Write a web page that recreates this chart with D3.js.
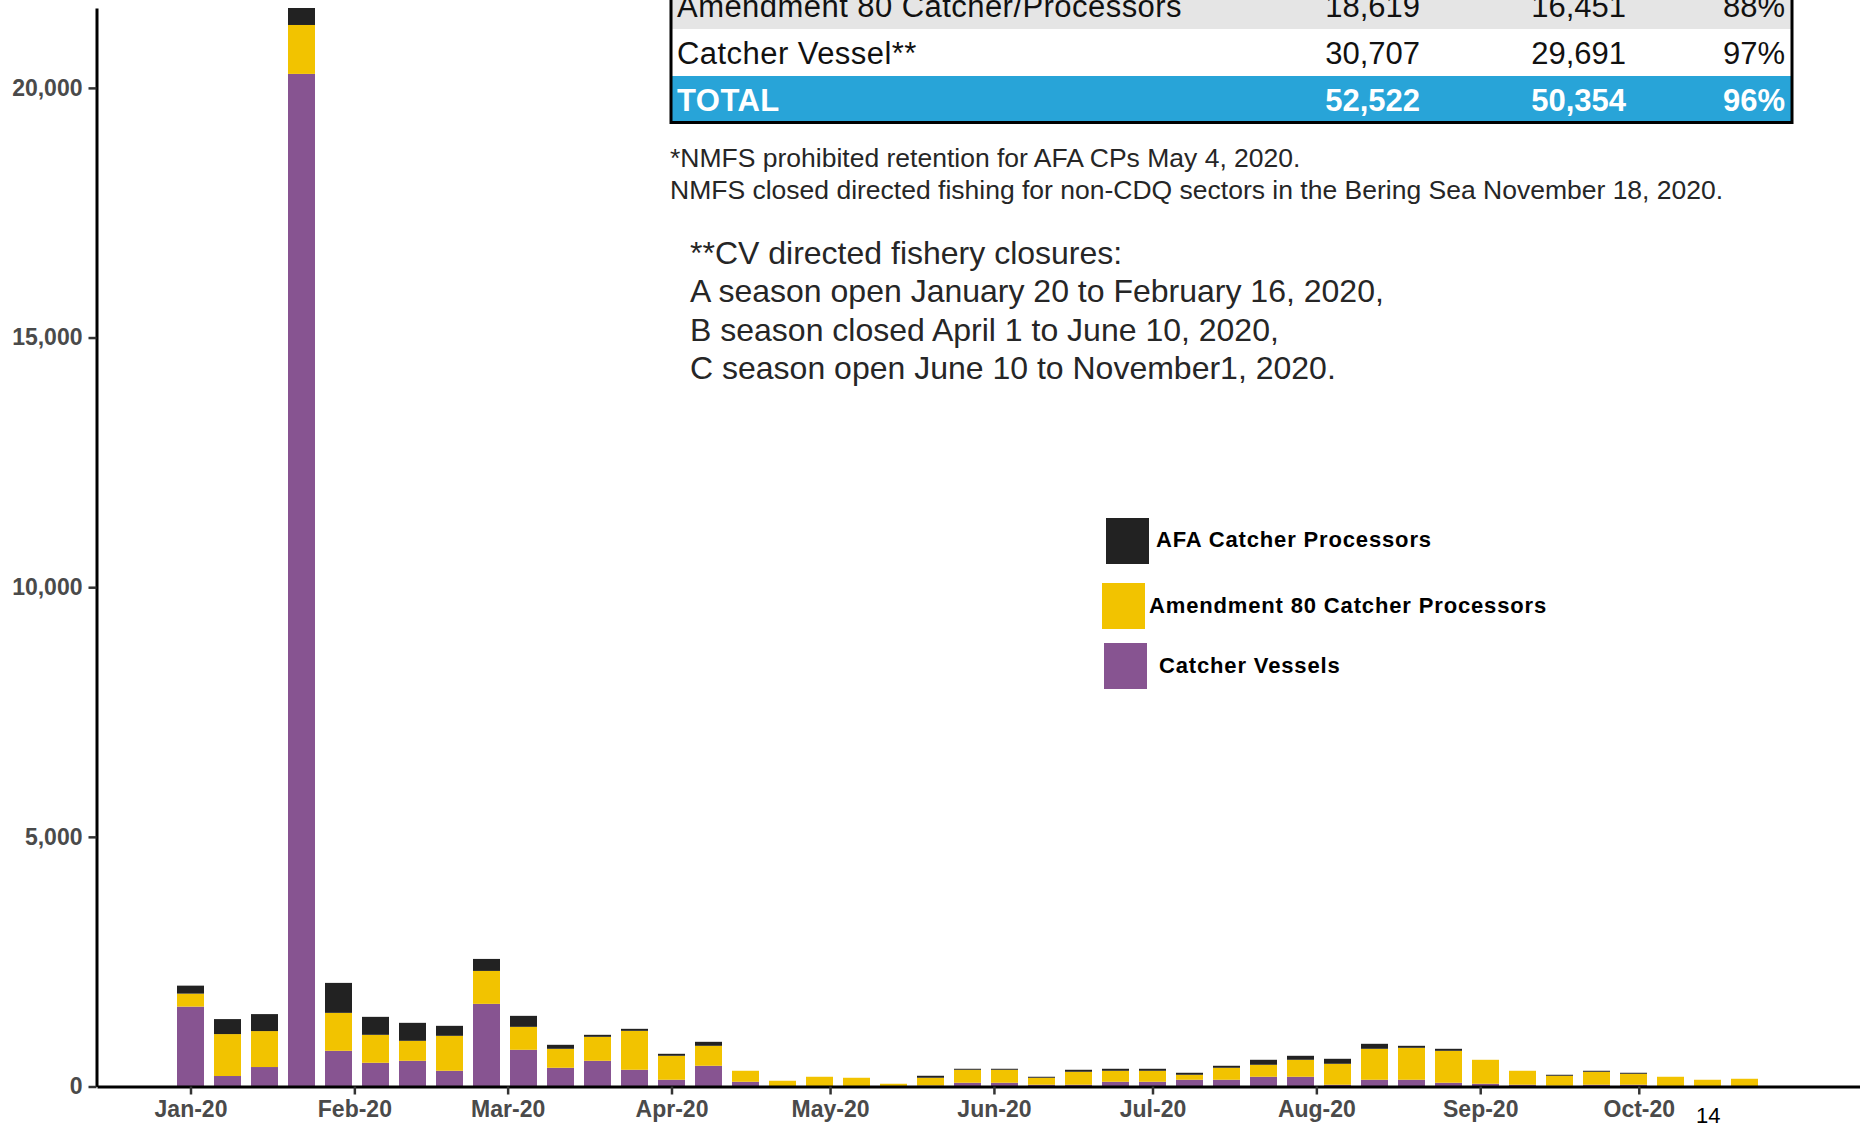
<!DOCTYPE html>
<html>
<head>
<meta charset="utf-8">
<script src="https://cdn.jsdelivr.net/npm/d3@7"></script>
<style>
  body { margin: 0; background: #fff; }
  svg { display: block; font-family: "Liberation Sans", Arial, sans-serif; }
</style>
</head>
<body>
<svg id="chart"></svg>
<script>
// weekly catch, Bering Sea 2020 (tons)
const weeks = [
  "2020-01-01", "2020-01-08", "2020-01-15", "2020-01-22", "2020-01-29",
  "2020-02-05", "2020-02-12", "2020-02-19", "2020-02-26",
  "2020-03-04", "2020-03-11", "2020-03-18", "2020-03-25",
  "2020-04-01", "2020-04-08", "2020-04-15", "2020-04-22", "2020-04-29",
  "2020-05-06", "2020-05-13", "2020-05-20", "2020-05-27",
  "2020-06-03", "2020-06-10", "2020-06-17", "2020-06-24",
  "2020-07-01", "2020-07-08", "2020-07-15", "2020-07-22", "2020-07-29",
  "2020-08-05", "2020-08-12", "2020-08-19", "2020-08-26",
  "2020-09-02", "2020-09-09", "2020-09-16", "2020-09-23", "2020-09-30",
  "2020-10-07", "2020-10-14", "2020-10-21"
];
const catcherVessels = [
  1600, 210, 390, 20280, 715, 475, 515, 315, 1655, 735, 375, 515, 335,
  135, 415, 95, 10, 10, 10, 5, 20, 75, 75, 35, 35, 95, 95, 135, 135, 195, 195,
  35, 135, 135, 75, 55, 35, 15, 35, 35, 5, 5, 5
];
const amendment80 = [
  260, 840, 720, 980, 760, 560, 400, 700, 660, 460, 380, 480, 780,
  480, 400, 220, 105, 185, 165, 50, 155, 260, 260, 140, 260, 220, 220, 100, 240, 240, 340,
  420, 620, 640, 640, 480, 280, 200, 260, 220, 190, 130, 150
];
const afaCatcherProcessors = [
  160, 300, 340, 340, 600, 360, 360, 200, 240, 220, 80, 40, 40,
  40, 80, 0, 0, 0, 0, 0, 40, 20, 20, 20, 40, 40, 40, 40, 40, 100, 80,
  100, 100, 40, 40, 0, 0, 20, 20, 20, 0, 0, 0
];

const seriesKeys = ["cv", "a80", "afa"];
const seriesColors = { cv: "#875491", a80: "#f2c300", afa: "#222222" };
const legendLabels = ["AFA Catcher Processors", "Amendment 80 Catcher Processors", "Catcher Vessels"];
const legendKeys = ["afa", "a80", "cv"];

const yTicks = [0, 5000, 10000, 15000, 20000];
const monthTicks = ["2020-01-01", "2020-02-01", "2020-03-01", "2020-04-01", "2020-05-01",
  "2020-06-01", "2020-07-01", "2020-08-01", "2020-09-01", "2020-10-01"];

// allocation table (top rows cut off in the slide)
const tableSectors = ["Amendment 80 Catcher/Processors", "Catcher Vessel**", "TOTAL"];
const tableAllocation = ["18,619", "30,707", "52,522"];
const tableCatch = ["16,451", "29,691", "50,354"];
const tablePct = ["88%", "97%", "96%"];

const notes = [
  "*NMFS prohibited retention for AFA CPs May 4, 2020.",
  "NMFS closed directed fishing for non-CDQ sectors in the Bering Sea November 18, 2020."
];
const closures = [
  "**CV directed fishery closures:",
  "A season open January 20 to February 16, 2020,",
  "B season closed April 1 to June 10, 2020,",
  "C season open June 10 to November1, 2020."
];

const width = 1860, height = 1125;
const svg = d3.select("#chart").attr("width", width).attr("height", height);
svg.append("rect").attr("width", width).attr("height", height).attr("fill", "#fff");

const parse = d3.utcParse("%Y-%m-%d");
const rows = weeks.map((w, i) => ({
  date: parse(w), cv: catcherVessels[i], a80: amendment80[i], afa: afaCatcherProcessors[i]
}));

// first week sits on the Jan tick, last on Oct 21; stretch to the axis ends
const x = d3.scaleUtc()
  .domain([parse(weeks[0]), parse(weeks[weeks.length - 1])])
  .range([190.5, 1744.5]);
x.domain([x.invert(97), x.invert(1860)]).range([97, 1860]);

const y = d3.scaleLinear().domain([0, 21600]).range([1086.5, 8]);
const barW = 27;

const stacked = d3.stack().keys(seriesKeys)(rows);

svg.append("g")
  .selectAll("g")
  .data(stacked)
  .join("g")
    .attr("fill", d => seriesColors[d.key])
  .selectAll("rect")
  .data(d => d)
  .join("rect")
    .attr("x", d => x(d.data.date) - barW / 2)
    .attr("y", d => y(d[1]))
    .attr("width", barW)
    .attr("height", d => y(d[0]) - y(d[1]));

// y axis
const yAxis = svg.append("g")
  .attr("transform", "translate(96.5,0)")
  .call(d3.axisLeft(y).tickValues(yTicks).tickFormat(d3.format(",")).tickSize(8).tickPadding(6).tickSizeOuter(0));
yAxis.select(".domain").attr("stroke", "#000").attr("stroke-width", 3);
yAxis.selectAll(".tick line").attr("stroke", "#333").attr("stroke-width", 2.5);
yAxis.selectAll(".tick text")
  .attr("fill", "#4a4a4a").attr("font-size", 23).attr("font-weight", "bold")
  .attr("font-family", "Liberation Sans, Arial, sans-serif");

// x axis
const xAxis = svg.append("g")
  .attr("transform", "translate(0,1086.5)")
  .call(d3.axisBottom(x).tickValues(monthTicks.map(parse)).tickFormat(d3.utcFormat("%b-%y"))
    .tickSize(8).tickPadding(6).tickSizeOuter(0));
xAxis.select(".domain").attr("stroke", "#000").attr("stroke-width", 3);
xAxis.selectAll(".tick line").attr("stroke", "#333").attr("stroke-width", 2.5);
xAxis.selectAll(".tick text")
  .attr("fill", "#4a4a4a").attr("font-size", 23).attr("font-weight", "bold")
  .attr("font-family", "Liberation Sans, Arial, sans-serif");

// table
const table = svg.append("g");
const rowTop = [-20, 29, 76];
const rowBottom = [29, 76, 121];
const rowFill = ["#e5e5e5", "#ffffff", "#28a4d8"];
tableSectors.forEach((s, i) => {
  table.append("rect")
    .attr("x", 671).attr("y", rowTop[i])
    .attr("width", 1792 - 671).attr("height", rowBottom[i] - rowTop[i])
    .attr("fill", rowFill[i]);
  const isTotal = i === 2;
  const baseY = [17, 64, 111][i];
  const g = table.append("g")
    .attr("font-size", 31)
    .attr("fill", isTotal ? "#fff" : "#111")
    .attr("font-weight", isTotal ? "bold" : "normal");
  g.append("text").attr("x", 677).attr("y", baseY).attr("letter-spacing", 0.45).text(s);
  g.append("text").attr("x", 1420).attr("y", baseY).attr("text-anchor", "end").text(tableAllocation[i]);
  g.append("text").attr("x", 1626).attr("y", baseY).attr("text-anchor", "end").text(tableCatch[i]);
  g.append("text").attr("x", 1785).attr("y", baseY).attr("text-anchor", "end").text(tablePct[i]);
});
table.append("path")
  .attr("d", "M671,-5V122.5H1792V-5")
  .attr("fill", "none").attr("stroke", "#000").attr("stroke-width", 3);

// notes
svg.append("g")
  .selectAll("text")
  .data(notes)
  .join("text")
    .attr("x", 670)
    .attr("y", (d, i) => 167 + i * 32)
    .attr("font-size", 26.5)
    .attr("fill", "#262626")
    .text(d => d);

svg.append("g")
  .selectAll("text")
  .data(closures)
  .join("text")
    .attr("x", 690)
    .attr("y", (d, i) => 264 + i * 38.4)
    .attr("font-size", 32)
    .attr("fill", "#262626")
    .text(d => d);

// legend
const legendBox = [
  { x: 1106, y: 518, tx: 1156, ty: 547 },
  { x: 1102, y: 583, tx: 1149, ty: 613 },
  { x: 1104, y: 643, tx: 1159, ty: 673 }
];
const legend = svg.append("g");
legendKeys.forEach((k, i) => {
  const b = legendBox[i];
  legend.append("rect")
    .attr("x", b.x).attr("y", b.y).attr("width", 43).attr("height", 46)
    .attr("fill", seriesColors[k]);
  legend.append("text")
    .attr("x", b.tx).attr("y", b.ty)
    .attr("font-size", 22).attr("font-weight", "bold").attr("fill", "#000")
    .attr("letter-spacing", 0.85)
    .text(legendLabels[i]);
});

// slide number
svg.append("text")
  .attr("x", 1696).attr("y", 1123)
  .attr("font-size", 22).attr("fill", "#000")
  .text("14");
</script>
</body>
</html>
